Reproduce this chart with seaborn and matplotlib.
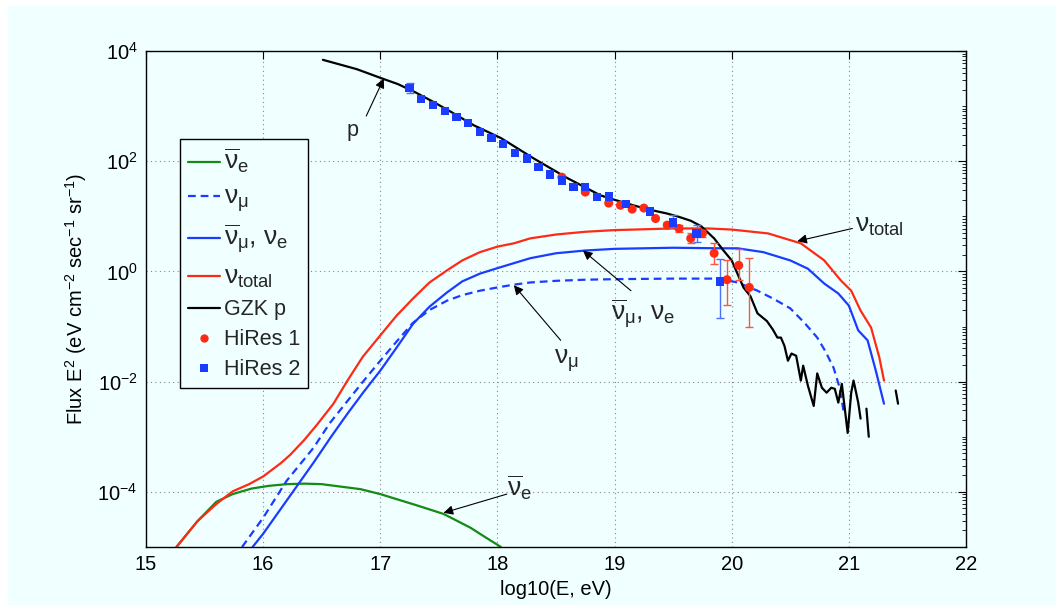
import numpy as np
import pandas as pd
import matplotlib
matplotlib.use("Agg")
import matplotlib.pyplot as plt
import matplotlib.ticker as mticker
from matplotlib.lines import Line2D
from matplotlib.patches import Rectangle
import seaborn as sns

# ---------------- data (log10 E, log10 flux) ----------------
gzk_x = [16.51, 16.8, 17.03, 17.15, 17.3, 17.45, 17.6, 17.8, 18.03, 18.31, 18.6, 18.88, 19.0,
         19.16, 19.3, 19.45, 19.55, 19.65, 19.74, 19.85, 19.93, 20.0, 20.1, 20.16, 20.22, 20.3,
         20.35, 20.39, 20.42, 20.45, 20.48, 20.51, 20.55, 20.59, 20.61, 20.65, 20.70, 20.73,
         20.77, 20.81, 20.85, 20.88, 20.91, 20.94, 20.99, 21.02, 21.04, 21.08, 21.10,
         21.15, 21.17,
         21.40, 21.42]
gzk_ly = [3.84, 3.67, 3.49, 3.40, 3.25, 3.08, 2.90, 2.65, 2.42, 2.05, 1.69, 1.38, 1.30,
          1.20, 1.12, 1.05, 0.99, 0.92, 0.82, 0.60, 0.38, 0.20, -0.29, -0.45, -0.76, -0.90,
          -1.05, -1.20, -1.20, -1.35, -1.62, -1.49, -1.53, -1.98, -1.71, -2.07, -2.44, -1.85,
          -2.11, -2.20, -2.11, -2.13, -2.38, -2.04, -2.93, -2.20, -1.98, -2.38, -2.67,
          -2.49, -3.00,
          -2.16, -2.40]
gzk_seg = [0] * 49 + [1] * 2 + [2] * 2

tot_x = [15.26, 15.44, 15.6, 15.74, 15.88, 16.0, 16.15, 16.23, 16.35, 16.46, 16.6, 16.72, 16.85,
         17.0, 17.14, 17.28, 17.42, 17.57, 17.7, 17.85, 18.0, 18.14, 18.28, 18.5, 18.75, 19.0,
         19.5, 19.8, 20.0, 20.31, 20.59, 20.79, 20.93, 21.02, 21.1, 21.19, 21.26, 21.30]
tot_ly = [-5.0, -4.53, -4.22, -3.99, -3.86, -3.72, -3.48, -3.33, -3.06, -2.78, -2.40, -1.98, -1.55,
          -1.16, -0.80, -0.49, -0.20, 0.02, 0.20, 0.35, 0.45, 0.51, 0.60, 0.67, 0.72, 0.75,
          0.78, 0.78, 0.76, 0.69, 0.51, 0.20, -0.16, -0.35, -0.71, -1.02, -1.56, -1.98]

mue_x = [15.91, 16.0, 16.26, 16.32, 16.43, 16.58, 16.72, 16.86, 17.0, 17.14, 17.28, 17.42, 17.57,
         17.7, 17.85, 18.0, 18.14, 18.28, 18.5, 18.75, 19.0, 19.5, 19.9, 20.05, 20.27, 20.5,
         20.65, 20.79, 20.91, 21.0, 21.08, 21.16, 21.23, 21.30]
mue_ly = [-5.0, -4.76, -3.98, -3.80, -3.47, -3.00, -2.58, -2.18, -1.80, -1.38, -0.95, -0.64, -0.38,
          -0.18, -0.04, 0.06, 0.15, 0.24, 0.33, 0.38, 0.41, 0.43, 0.42, 0.42, 0.35, 0.20,
          0.05, -0.22, -0.40, -0.62, -1.07, -1.25, -1.80, -2.40]

mu_x = [15.82, 16.0, 16.2, 16.43, 16.57, 16.72, 16.86, 17.0, 17.14, 17.28, 17.42, 17.57, 17.7,
        17.85, 18.0, 18.14, 18.28, 18.5, 18.75, 19.0, 19.5, 19.88, 20.05, 20.22, 20.36, 20.5,
        20.62, 20.73, 20.8, 20.87, 20.92, 20.96]
mu_ly = [-5.0, -4.47, -3.80, -3.20, -2.75, -2.35, -1.98, -1.62, -1.27, -0.93, -0.70, -0.53, -0.43,
         -0.35, -0.29, -0.24, -0.20, -0.17, -0.15, -0.14, -0.13, -0.13, -0.20, -0.35, -0.50, -0.67,
         -0.93, -1.20, -1.45, -1.75, -2.10, -2.60]

ebar_x = [15.26, 15.44, 15.6, 15.74, 15.9, 16.05, 16.2, 16.35, 16.5, 16.83, 17.0, 17.32, 17.54,
          17.77, 17.88, 18.03]
ebar_ly = [-5.0, -4.53, -4.18, -4.04, -3.94, -3.89, -3.86, -3.85, -3.86, -3.95, -4.04, -4.25, -4.40,
           -4.65, -4.80, -5.0]

hr2_x = [17.25, 17.35, 17.45, 17.55, 17.65, 17.75, 17.85, 17.95, 18.05, 18.15, 18.25, 18.35,
         18.45, 18.55, 18.65, 18.75, 18.85, 18.95, 19.1, 19.3, 19.5, 19.7, 19.9]
hr2_ly = [3.33, 3.13, 3.02, 2.91, 2.80, 2.69, 2.53, 2.42, 2.31, 2.15, 2.05, 1.89,
          1.76, 1.65, 1.53, 1.53, 1.35, 1.36, 1.22, 1.09, 0.89, 0.69, -0.18]
hr2_err_x = [17.25, 19.5, 19.7, 19.9]
hr2_err_lo = [3.24, 0.80, 0.53, -0.85]
hr2_err_hi = [3.42, 1.02, 0.84, 0.22]

hr1_x = [18.55, 18.75, 18.95, 19.05, 19.15, 19.25, 19.35, 19.45, 19.55, 19.65, 19.75, 19.85,
         19.96, 20.06, 20.15]
hr1_ly = [1.71, 1.44, 1.24, 1.20, 1.13, 1.15, 0.96, 0.84, 0.78, 0.60, 0.69, 0.33,
          -0.15, 0.11, -0.29]
hr1_err_x = [19.45, 19.55, 19.65, 19.75, 19.85, 19.96, 20.06, 20.15]
hr1_err_lo = [0.79, 0.72, 0.51, 0.63, 0.13, -0.60, -0.15, -1.00]
hr1_err_hi = [0.89, 0.84, 0.69, 0.75, 0.51, 0.20, 0.40, 0.24]

# ---------------- style ----------------
sns.set_theme(style="white")
plt.rcParams["font.family"] = ["Liberation Sans", "DejaVu Sans"]
plt.rcParams["mathtext.fontset"] = "custom"
plt.rcParams["mathtext.rm"] = "Liberation Sans"
plt.rcParams["mathtext.it"] = "Liberation Sans"
plt.rcParams["mathtext.sf"] = "Liberation Sans"
plt.rcParams["mathtext.bf"] = "Liberation Sans:bold"

BG = "#F0FFFF"
RED = "#FF2A14"
BLUE = "#1A3CFF"
GREEN = "#158A15"
FS = 14.5
MFS = 19  # size for greek/math labels

fig = plt.figure(figsize=(10.62, 6.11), dpi=100, facecolor="white")
fig.patches.append(Rectangle((8 / 1062, 6 / 611), (1056 - 8) / 1062, (605 - 6) / 611,
                             transform=fig.transFigure, facecolor=BG, edgecolor="none", zorder=-10))
ax = fig.add_axes([146 / 1062, 1 - 547 / 611, (966 - 146) / 1062, (547 - 51) / 611])
ax.set_facecolor(BG)

def curve(xs, lys, color, ls="-", units=None):
    df = pd.DataFrame({"x": xs, "y": 10 ** np.array(lys, dtype=float)})
    kw = {}
    if units is not None:
        df["u"] = units
        kw = dict(units="u")
    sns.lineplot(data=df, x="x", y="y", ax=ax, color=color, lw=1.6, linestyle=ls,
                 estimator=None, sort=False, legend=False, **kw)

curve(ebar_x, ebar_ly, GREEN)
curve(mu_x, mu_ly, BLUE, ls=(0, (3.5, 2.2)))
curve(mue_x, mue_ly, BLUE)
curve(tot_x, tot_ly, RED)
curve(gzk_x, gzk_ly, "black", units=gzk_seg)

# error bars
hr1_mid = 10 ** np.interp(hr1_err_x, hr1_x, hr1_ly)
ax.errorbar(hr1_err_x, hr1_mid,
            yerr=[hr1_mid - 10 ** np.array(hr1_err_lo), 10 ** np.array(hr1_err_hi) - hr1_mid],
            fmt="none", ecolor="#FF5540", elinewidth=1.0, capsize=3, capthick=1.0, zorder=3)
hr2_mid = 10 ** np.interp(hr2_err_x, hr2_x, hr2_ly)
ax.errorbar(hr2_err_x, hr2_mid,
            yerr=[hr2_mid - 10 ** np.array(hr2_err_lo), 10 ** np.array(hr2_err_hi) - hr2_mid],
            fmt="none", ecolor="#4D70FF", elinewidth=1.0, capsize=3, capthick=1.0, zorder=3)

sns.scatterplot(x=hr1_x, y=10 ** np.array(hr1_ly), ax=ax, color=RED, marker="o", s=42,
                edgecolor="none", zorder=4, legend=False)
sns.scatterplot(x=hr2_x, y=10 ** np.array(hr2_ly), ax=ax, color=BLUE, marker="s", s=36,
                edgecolor="none", zorder=4, legend=False)

# axes
ax.set_yscale("log")
ax.set_xlim(15, 22)
ax.set_ylim(1e-5, 1e4)
ax.set_xticks(range(15, 23))
ax.set_xticklabels([str(v) for v in range(15, 23)])
yt = [1e-4, 1e-2, 1e0, 1e2, 1e4]
ax.yaxis.set_major_locator(mticker.FixedLocator(yt))
ax.yaxis.set_major_formatter(mticker.FixedFormatter(
    [r"$\mathregular{10^{-4}}$", r"$\mathregular{10^{-2}}$", r"$\mathregular{10^{0}}$",
     r"$\mathregular{10^{2}}$", r"$\mathregular{10^{4}}$"]))
ax.yaxis.set_minor_locator(mticker.LogLocator(base=10, subs=np.arange(1, 10) * 1.0, numticks=100))
ax.yaxis.set_minor_formatter(mticker.NullFormatter())
ax.tick_params(which="both", direction="in", top=True, right=True, color="black",
               labelsize=FS, labelcolor="black")
ax.tick_params(which="major", length=6, width=0.8, pad=6)
ax.tick_params(which="minor", length=3, width=0.6)
ax.grid(True, which="major", linestyle=(0, (1, 3)), color="#888888", linewidth=0.8)
for s in ax.spines.values():
    s.set_color("black")
    s.set_linewidth(1.0)

ax.set_xlabel("log10(E, eV)", fontsize=FS, color="black", labelpad=4)
ax.set_ylabel(r"Flux E$^2$ (eV cm$^{-2}$ sec$^{-1}$ sr$^{-1}$)", fontsize=FS, color="black",
              labelpad=6)

# annotations
def arrow(tail, tip):
    ax.annotate("", xy=(tip[0], 10 ** tip[1]), xytext=(tail[0], 10 ** tail[1]),
                arrowprops=dict(arrowstyle="-|>", lw=0.8, color="black", shrinkA=0, shrinkB=0,
                                mutation_scale=14))

arrow((16.88, 2.82), (17.03, 3.50))
ax.text(16.76, 10 ** 2.55, "p", fontsize=FS + 1, ha="center", va="center")
arrow((21.03, 0.78), (20.56, 0.55))
ax.text(21.05, 10 ** 0.82, r"$\nu_{total}$", fontsize=MFS, ha="left", va="center")
arrow((19.14, -0.35), (18.73, 0.38))
ax.text(18.97, 10 ** -0.78, r"$\overline{\nu}_\mu$, $\nu_e$", fontsize=MFS, ha="left", va="center")
arrow((18.54, -1.25), (18.14, -0.25))
ax.text(18.48, 10 ** -1.62, r"$\nu_\mu$", fontsize=MFS, ha="left", va="center")
arrow((18.08, -4.04), (17.54, -4.38))
ax.text(18.08, 10 ** -3.92, r"$\overline{\nu}_e$", fontsize=MFS, ha="left", va="center")

# legend
handles = [
    Line2D([], [], color=GREEN, lw=1.6, label=r"$\overline{\nu}_e$"),
    Line2D([], [], color=BLUE, lw=1.6, linestyle=(0, (3.5, 2.2)), label=r"$\nu_\mu$"),
    Line2D([], [], color=BLUE, lw=1.6, label=r"$\overline{\nu}_\mu$, $\nu_e$"),
    Line2D([], [], color=RED, lw=1.6, label=r"$\nu_{total}$"),
    Line2D([], [], color="black", lw=1.6, label="GZK p"),
    Line2D([], [], color=RED, lw=0, marker="o", markersize=6, markeredgewidth=0, label="HiRes 1"),
    Line2D([], [], color=BLUE, lw=0, marker="s", markersize=5.5, markeredgewidth=0, label="HiRes 2"),
]
leg = ax.legend(handles=handles, loc="upper left", bbox_to_anchor=(34 / 820, (547 - 139) / 496),
                borderaxespad=0, frameon=True, fancybox=False, edgecolor="black", facecolor=BG,
                framealpha=1, fontsize=FS + 1, handlelength=1.5, handletextpad=0.2,
                borderpad=0.35, labelspacing=0.42)
leg.get_frame().set_linewidth(1.0)
for t in leg.get_texts()[:4]:
    t.set_fontsize(MFS)

fig.savefig("out.png", dpi=100, facecolor="white")
